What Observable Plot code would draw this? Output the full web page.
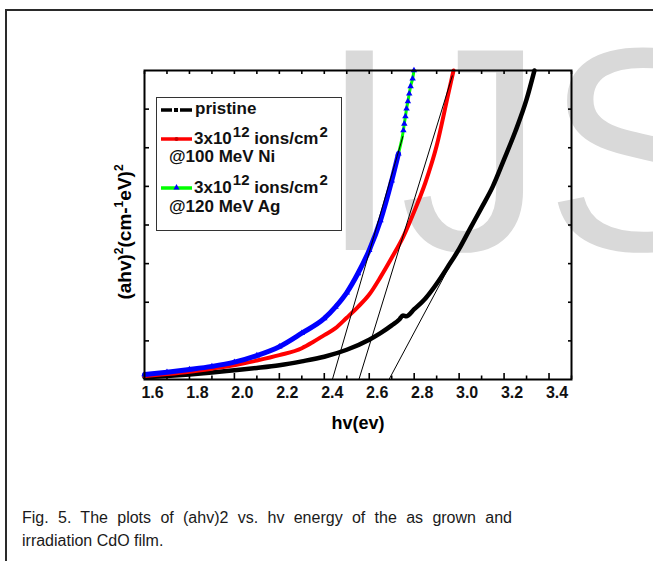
<!DOCTYPE html>
<html>
<head>
<meta charset="utf-8">
<script src="https://cdn.jsdelivr.net/npm/d3@7"></script>
<script src="https://cdn.jsdelivr.net/npm/@observablehq/plot@0.6"></script>
<style>
  body { margin: 0; background: #fff; font-family: "Liberation Sans", Arial, sans-serif; }
  #page { position: relative; width: 653px; height: 561px; overflow: hidden; background: #fff; }
  #page > * { position: absolute; left: 0; top: 0; }
  #border { left: 5px; top: 9px; width: 700px; height: 600px; border-left: 2px solid #2a2a2a; border-top: 2px solid #2a2a2a; }
  #caption { left: 22px; top: 506px; width: 490px; font-family: "Liberation Sans", Arial, sans-serif; font-size: 16px; line-height: 23.4px; color: #1a1a1a; }
  #caption .l1 { text-align: justify; text-align-last: justify; white-space: nowrap; }
  svg text { font-family: "Liberation Sans", Arial, sans-serif; }
</style>
</head>
<body>
<div id="page">
  <div id="border"></div>
  <svg id="wm" width="653" height="561">
    <text x="319" y="250" font-size="290" fill="#d9d9d9">IJS</text>
  </svg>
  <div id="chart"></div>
  <svg id="deco" width="653" height="561" font-weight="bold">
    <text transform="translate(131,232) rotate(-90)" text-anchor="middle" font-size="19">(ahv)<tspan dy="-8" font-size="12">2</tspan><tspan dy="8">(cm-</tspan><tspan dy="-8" font-size="12">1</tspan><tspan dy="8">eV)</tspan><tspan dy="-8" font-size="12">2</tspan></text>
    <text x="358" y="428.5" text-anchor="middle" font-size="18">hv(ev)</text>
    <g id="legend"></g>
  </svg>
  <div id="caption">
    <div class="l1">Fig. 5. The plots of (ahv)2 vs. hv energy of the as grown and</div>
    <div>irradiation CdO film.</div>
  </div>
</div>
<script>
// ---- data (hv in eV, (ahv)^2 in arbitrary units) ----
const hvPristine = [1.60,1.70,1.80,1.90,2.00,2.10,2.20,2.30,2.40,2.50,2.60,2.65,2.70,2.735,2.75,2.765,2.80,2.85,2.90,2.95,3.00,3.05,3.10,3.15,3.20,3.25,3.30,3.335];
const aPristine  = [0.06,0.09,0.13,0.18,0.24,0.30,0.37,0.47,0.59,0.77,1.03,1.20,1.40,1.56,1.66,1.64,1.82,2.10,2.48,2.92,3.38,3.92,4.45,5.00,5.70,6.42,7.25,8.00];

const hvNi = [1.60,1.70,1.80,1.90,2.00,2.10,2.20,2.30,2.35,2.40,2.45,2.50,2.55,2.60,2.65,2.70,2.75,2.80,2.85,2.90,2.95,2.975];
const aNi  = [0.09,0.14,0.20,0.28,0.37,0.49,0.63,0.81,0.97,1.15,1.33,1.60,1.88,2.20,2.65,3.15,3.68,4.35,5.10,6.05,7.35,8.00];

const hvAg = [1.60,1.70,1.80,1.90,2.00,2.10,2.20,2.30,2.40,2.45,2.50,2.55,2.60,2.65,2.70,2.73,2.752,2.756,2.761,2.766,2.772,2.778,2.784,2.793,2.799];
const aAg  = [0.13,0.19,0.26,0.34,0.45,0.62,0.85,1.20,1.58,1.88,2.25,2.75,3.35,4.12,5.15,5.85,6.45,6.62,6.81,7.01,7.20,7.40,7.59,7.79,8.00];

// linear extrapolations (band-gap tangents): start on hv axis, end on curve
const tangentX1 = [2.436, 2.554, 2.688];
const tangentY1 = [0, 0, 0];
const tangentX2 = [2.75, 2.97, 3.185];
const tangentY2 = [6.3, 7.87, 5.41];

const xMajor = [1.6,1.8,2.0,2.2,2.4,2.6,2.8,3.0,3.2,3.4];
const xMinor = [1.7,1.9,2.1,2.3,2.5,2.7,2.9,3.1,3.3,3.5];
const yTicks = [1,2,3,4,5,6,7];

const legendLabels = ["pristine", "3x10|12| ions/cm|2", "@100 MeV Ni", "3x10|12| ions/cm|2", "@120 MeV Ag"];

// ---- tables ----
const pristine = hvPristine.map((x, i) => ({x, y: aPristine[i]}));
const ni = hvNi.map((x, i) => ({x, y: aNi[i]}));
const ag = hvAg.map((x, i) => ({x, y: aAg[i]}));
const tangents = tangentX1.map((x1, i) => ({x1, y1: tangentY1[i], x2: tangentX2[i], y2: tangentY2[i]}));

const blank = () => "";
const chart = Plot.plot({
  width: 653,
  height: 450,
  marginLeft: 144,
  marginRight: 82,
  marginTop: 70,
  marginBottom: 71,
  style: {background: "transparent", overflow: "visible", fontFamily: "'Liberation Sans', Arial, sans-serif"},
  x: {domain: [1.6, 3.5]},
  y: {domain: [0, 8]},
  marks: [
    Plot.axisX(xMajor, {anchor: "bottom", tickSize: -6, tickFormat: blank, strokeWidth: 1.6, label: null}),
    Plot.axisX(xMinor, {anchor: "bottom", tickSize: -3.5, tickFormat: blank, strokeWidth: 1.6, label: null}),
    Plot.axisX(xMajor, {anchor: "top", tickSize: -3, tickFormat: blank, strokeWidth: 1.6, label: null}),
    Plot.axisX(xMinor, {anchor: "top", tickSize: -3, tickFormat: blank, strokeWidth: 1.6, label: null}),
    Plot.axisX(xMajor, {anchor: "bottom", tickSize: 0, tickPadding: 7, dx: 8, fontSize: 16, fontWeight: "bold", fill: "#111", tickFormat: d3.format(".1f"), label: null}),
    Plot.axisY(yTicks, {anchor: "left", tickSize: -5, tickFormat: blank, strokeWidth: 1.6, label: null}),
    Plot.axisY(yTicks, {anchor: "right", tickSize: -4, tickFormat: blank, strokeWidth: 1.6, label: null}),
    Plot.line(pristine, {x: "x", y: "y", stroke: "black", strokeWidth: 4.5, curve: "monotone-x"}),
    Plot.line(ni, {x: "x", y: "y", stroke: "#ff0000", strokeWidth: 4, curve: "monotone-x"}),
    Plot.line(ag, {x: "x", y: "y", stroke: "#00ff00", strokeWidth: 3, curve: "monotone-x"}),
    Plot.line(ag.filter(d => d.y <= 6.3), {x: "x", y: "y", stroke: "#0000ff", strokeWidth: 5, curve: "monotone-x"}),
    Plot.dot(ag, {x: "x", y: "y", symbol: "triangle", r: 2.4, fill: "#0000ff"}),
    Plot.link(tangents, {x1: "x1", y1: "y1", x2: "x2", y2: "y2", stroke: "black", strokeWidth: 1}),
    Plot.frame({stroke: "black", strokeWidth: 2})
  ]
});
document.getElementById("chart").appendChild(chart);

// ---- legend ----
const ns = "http://www.w3.org/2000/svg";
const lg = document.getElementById("legend");
function el(tag, attrs, parent) {
  const e = document.createElementNS(ns, tag);
  for (const k in attrs) e.setAttribute(k, attrs[k]);
  (parent || lg).appendChild(e);
  return e;
}
el("rect", {x: 156.5, y: 97.5, width: 185, height: 133, fill: "white", stroke: "#333", "stroke-width": 1});
// samples
el("line", {x1: 161, x2: 172, y1: 110, y2: 110, stroke: "black", "stroke-width": 3.5});
el("line", {x1: 180, x2: 192, y1: 110, y2: 110, stroke: "black", "stroke-width": 3.5});
el("rect", {x: 174, y: 108, width: 4, height: 4, fill: "black"});
el("line", {x1: 161, x2: 192, y1: 139, y2: 139, stroke: "#ff0000", "stroke-width": 3.5});
el("circle", {cx: 176.5, cy: 139, r: 2, fill: "#cc0000"});
el("line", {x1: 161, x2: 192, y1: 188, y2: 188, stroke: "#00ff00", "stroke-width": 3.5});
el("path", {d: "M176.5,184 L179.5,189.5 L173.5,189.5 Z", fill: "#0000ff"});
// texts
const textPos = [[195, 114], [194, 144], [169, 162], [194, 192.5], [169, 212]];
legendLabels.forEach((lab, i) => {
  const t = el("text", {x: textPos[i][0], y: textPos[i][1], "font-size": 17, fill: "#111"});
  const parts = lab.split("|");
  parts.forEach((p, j) => {
    const s = el("tspan", j % 2 ? {dy: -7.5, dx: 1, "font-size": 15} : (j > 0 ? {dy: 7.5} : {}), t);
    s.textContent = p;
  });
});
</script>
</body>
</html>
